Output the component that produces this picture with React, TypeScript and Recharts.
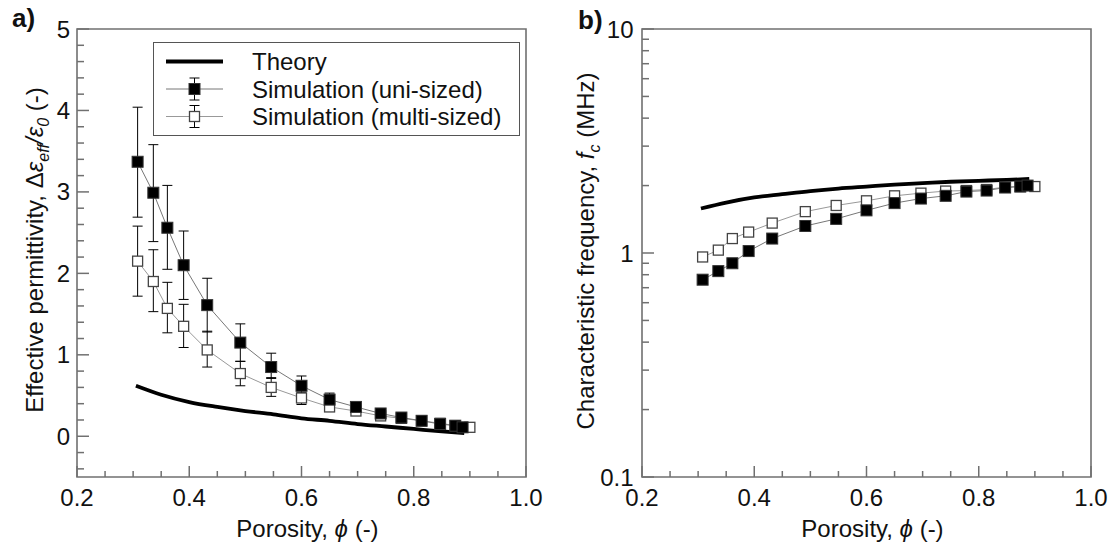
import React from 'react';
import { ComposedChart, Line, XAxis, YAxis, ErrorBar, ReferenceArea, Legend } from 'recharts';

// ---------- data ----------
const NAME_THEORY = 'Theory';
const NAME_UNI = 'Simulation (uni-sized)';
const NAME_MULTI = 'Simulation (multi-sized)';

const PHI_UNI = [0.308, 0.336, 0.361, 0.39, 0.432, 0.491, 0.546, 0.6, 0.65, 0.697, 0.741, 0.778, 0.814, 0.847, 0.874, 0.887];
const PHI_MULTI = [0.308, 0.336, 0.361, 0.39, 0.432, 0.491, 0.546, 0.6, 0.65, 0.697, 0.741, 0.778, 0.814, 0.847, 0.874, 0.9];
const PHI_THEORY = [0.305, 0.35, 0.4, 0.45, 0.5, 0.55, 0.6, 0.65, 0.7, 0.75, 0.8, 0.85, 0.89];

const PERM_UNI = [3.37, 2.99, 2.56, 2.1, 1.61, 1.15, 0.85, 0.62, 0.45, 0.36, 0.28, 0.23, 0.19, 0.15, 0.13, 0.11];
const PERM_UNI_HI = [4.04, 3.58, 3.08, 2.52, 1.94, 1.38, 1.02, 0.74, 0.53, 0.41, 0.32, 0.26, 0.21, 0.17, 0.14, 0.12];
const PERM_UNI_LO = [2.69, 2.39, 2.05, 1.68, 1.28, 0.92, 0.71, 0.51, 0.39, 0.31, 0.24, 0.2, 0.17, 0.13, 0.11, 0.1];

const PERM_MULTI = [2.15, 1.9, 1.57, 1.35, 1.06, 0.77, 0.6, 0.47, 0.36, 0.31, 0.25, 0.22, 0.19, 0.16, 0.13, 0.11];
const PERM_MULTI_HI = [2.58, 2.29, 1.89, 1.62, 1.29, 0.92, 0.72, 0.54, 0.4, 0.34, 0.27, 0.23, 0.2, 0.17, 0.14, 0.12];
const PERM_MULTI_LO = [1.72, 1.53, 1.27, 1.09, 0.85, 0.62, 0.49, 0.39, 0.32, 0.28, 0.23, 0.21, 0.18, 0.15, 0.12, 0.1];

const PERM_THEORY = [0.62, 0.51, 0.42, 0.36, 0.31, 0.27, 0.22, 0.19, 0.15, 0.12, 0.09, 0.06, 0.04];

const FREQ_UNI = [0.76, 0.83, 0.9, 1.02, 1.16, 1.32, 1.42, 1.55, 1.67, 1.75, 1.8, 1.88, 1.9, 1.96, 1.98, 2.0];
const FREQ_MULTI = [0.96, 1.03, 1.16, 1.24, 1.36, 1.53, 1.63, 1.71, 1.8, 1.85, 1.89, 1.9, 1.92, 1.97, 1.98, 1.98];
const FREQ_THEORY = [1.58, 1.68, 1.77, 1.83, 1.89, 1.94, 1.98, 2.02, 2.05, 2.08, 2.1, 2.12, 2.14];

const X_TICKS = [0.2, 0.25, 0.3, 0.35, 0.4, 0.45, 0.5, 0.55, 0.6, 0.65, 0.7, 0.75, 0.8, 0.85, 0.9, 0.95, 1.0];
const X_LABELS = [0.2, 0.4, 0.6, 0.8, 1.0];
const PERM_TICKS = [-0.4, -0.2, 0, 0.2, 0.4, 0.6, 0.8, 1, 1.2, 1.4, 1.6, 1.8, 2, 2.2, 2.4, 2.6, 2.8, 3, 3.2, 3.4, 3.6, 3.8, 4, 4.2, 4.4, 4.6, 4.8, 5];
const PERM_LABELS = [0, 1, 2, 3, 4, 5];
const FREQ_TICKS = [0.1, 0.2, 0.3, 0.4, 0.5, 0.6, 0.7, 0.8, 0.9, 1, 2, 3, 4, 5, 6, 7, 8, 9, 10];
const FREQ_LABELS = [0.1, 1, 10];

// ---------- tables built from the arrays ----------
const permUniData = PHI_UNI.map((x, i) => ({ x, y: PERM_UNI[i], err: [PERM_UNI[i] - PERM_UNI_LO[i], PERM_UNI_HI[i] - PERM_UNI[i]] }));
const permMultiData = PHI_MULTI.map((x, i) => ({ x, y: PERM_MULTI[i], err: [PERM_MULTI[i] - PERM_MULTI_LO[i], PERM_MULTI_HI[i] - PERM_MULTI[i]] }));
const permTheoryData = PHI_THEORY.map((x, i) => ({ x, y: PERM_THEORY[i] }));
const freqUniData = PHI_UNI.map((x, i) => ({ x, y: FREQ_UNI[i] }));
const freqMultiData = PHI_MULTI.map((x, i) => ({ x, y: FREQ_MULTI[i] }));
const freqTheoryData = PHI_THEORY.map((x, i) => ({ x, y: FREQ_THEORY[i] }));

// ---------- styles ----------
const FONT = '"Liberation Sans", Arial, sans-serif';
const AXIS = '#707070';
const TEXT = '#111';
const FS = 24;
const SUB = 16;

const isIn = (arr: number[], v: number) => arr.some((a) => Math.abs(a - v) < 1e-9);

const XTick = (props: any) => {
  const { x, y, payload } = props;
  const v = payload.value;
  const major = isIn(X_LABELS, v);
  return (
    <g>
      <line x1={x} x2={x} y1={y} y2={y - (major ? 11 : 6)} stroke={AXIS} strokeWidth={1.5} />
      {major && (
        <text x={x} y={y + 20} dy="0.355em" textAnchor="middle" fontFamily={FONT} fontSize={FS} fill={TEXT}>
          {v.toFixed(1)}
        </text>
      )}
    </g>
  );
};

const makeYTick = (labels: number[], gap: number) => (props: any) => {
  const { x, y, payload } = props;
  const v = payload.value;
  const major = isIn(labels, v);
  return (
    <g>
      <line x1={x} x2={x + (major ? 12 : 7)} y1={y} y2={y} stroke={AXIS} strokeWidth={1.5} />
      {major && (
        <text x={x - gap} y={y} dy="0.355em" textAnchor="end" fontFamily={FONT} fontSize={FS} fill={TEXT}>
          {String(v)}
        </text>
      )}
    </g>
  );
};
const PermTick = makeYTick(PERM_LABELS, 7);
const FreqTick = makeYTick(FREQ_LABELS, 8.5);

const filledSquare = (p: any) => {
  if (p.cx == null || p.cy == null) return <g key={`fs-${p.index}`} />;
  return <rect key={`fs-${p.index}`} x={p.cx - 5.5} y={p.cy - 5.5} width={11} height={11} fill="#000" stroke="#333" strokeWidth={1} />;
};
const openSquare = (p: any) => {
  if (p.cx == null || p.cy == null) return <g key={`os-${p.index}`} />;
  return <rect key={`os-${p.index}`} x={p.cx - 5} y={p.cy - 5} width={10} height={10} fill="#fff" stroke="#444" strokeWidth={1.3} />;
};

const xTitle = (props: any) => {
  const vb = props.viewBox || { x: 77, y: 477, width: 449 };
  const cx = vb.x + vb.width / 2 + 6;
  return (
    <text x={cx} y={vb.y + 51} dy="0.355em" textAnchor="middle" fontFamily={FONT} fontSize={FS} fill={TEXT}>
      Porosity, <tspan fontStyle="italic">ϕ</tspan> (-)
    </text>
  );
};

const permTitle = (props: any) => {
  const vb = props.viewBox || { x: 27, y: 29, width: 50, height: 448 };
  const ax = vb.x + vb.width;
  const cx = ax - 43;
  const cy = vb.y + vb.height / 2 - 3;
  return (
    <g>
      <text x={ax - 65} y={27} fontFamily={FONT} fontSize={26} fontWeight="bold" fill={TEXT}>a)</text>
      <text transform={`rotate(-90, ${cx}, ${cy})`} x={cx} y={cy} dy="0.355em" textAnchor="middle" fontFamily={FONT} fontSize={FS} fill={TEXT}>
        Effective permittivity, Δ<tspan fontStyle="italic">ε</tspan>
        <tspan fontStyle="italic" fontSize={SUB} dy={6}>eff</tspan>
        <tspan fontStyle="italic" dy={-6}>/ε</tspan>
        <tspan fontStyle="italic" fontSize={SUB} dy={6}>0</tspan>
        <tspan dy={-6}> (-)</tspan>
      </text>
    </g>
  );
};

const freqTitle = (props: any) => {
  const vb = props.viewBox || { x: 36, y: 29, width: 50, height: 448 };
  const ax = vb.x + vb.width;
  const cx = ax - 57;
  const cy = vb.y + vb.height / 2 - 2;
  return (
    <g>
      <text x={ax - 64} y={29} fontFamily={FONT} fontSize={26} fontWeight="bold" fill={TEXT}>b)</text>
      <text transform={`rotate(-90, ${cx}, ${cy})`} x={cx} y={cy} dy="0.355em" textAnchor="middle" fontFamily={FONT} fontSize={FS} fill={TEXT}>
        Characteristic frequency, <tspan fontStyle="italic">f</tspan>
        <tspan fontStyle="italic" fontSize={SUB} dy={6}>c</tspan>
        <tspan dy={-6}> (MHz)</tspan>
      </text>
    </g>
  );
};

const LEGEND_ORDER = [NAME_THEORY, NAME_UNI, NAME_MULTI];
const renderLegend = (props: any) => {
  const items = [...(props.payload || [])].sort(
    (a: any, b: any) => LEGEND_ORDER.indexOf(a.value) - LEGEND_ORDER.indexOf(b.value)
  );
  return (
    <div style={{ width: 367, height: 94, border: '1.5px solid #555', boxSizing: 'border-box', background: '#fff', position: 'relative' }}>
      <svg width={364} height={91} style={{ position: 'absolute', left: 0, top: 0 }}>
        {items.map((it: any, i: number) => {
          const cy = 18.5 + i * 27.5;
          const mx = 40.5;
          const name = it.value;
          return (
            <g key={name}>
              {name === NAME_THEORY ? (
                <line x1={12} x2={69} y1={cy} y2={cy} stroke="#000" strokeWidth={3.8} />
              ) : (
                <g>
                  <line x1={12} x2={69} y1={cy} y2={cy} stroke={name === NAME_UNI ? '#777' : '#999'} strokeWidth={1} />
                  <line x1={mx} x2={mx} y1={cy - 11} y2={cy + 11} stroke="#000" strokeWidth={1} />
                  <line x1={mx - 5} x2={mx + 5} y1={cy - 11} y2={cy - 11} stroke="#000" strokeWidth={1} />
                  <line x1={mx - 5} x2={mx + 5} y1={cy + 11} y2={cy + 11} stroke="#000" strokeWidth={1} />
                  {name === NAME_UNI ? (
                    <rect x={mx - 5.5} y={cy - 5.5} width={11} height={11} fill="#000" stroke="#333" />
                  ) : (
                    <rect x={mx - 5} y={cy - 5} width={10} height={10} fill="#fff" stroke="#444" strokeWidth={1.3} />
                  )}
                </g>
              )}
              <text x={98} y={cy} dy="0.355em" fontFamily={FONT} fontSize={FS} fill={TEXT}>{name}</text>
            </g>
          );
        })}
      </svg>
    </div>
  );
};

export default function App() {
  return (
    <div style={{ position: 'absolute', left: 0, top: 0, width: 1112, height: 550, background: '#fff' }}>
      <div style={{ position: 'absolute', left: 0, top: 0 }}>
        <ComposedChart width={556} height={550} margin={{ top: 29, right: 30, bottom: 13, left: 27 }}>
          <XAxis
            dataKey="x"
            type="number"
            domain={[0.2, 1.0]}
            allowDataOverflow
            ticks={X_TICKS}
            interval={0}
            tick={XTick}
            tickLine={false}
            tickSize={0}
            tickMargin={0}
            axisLine={false}
            height={60}
            label={{ content: xTitle }}
          />
          <YAxis
            dataKey="y"
            type="number"
            domain={[-0.5, 5]}
            allowDataOverflow
            ticks={PERM_TICKS}
            interval={0}
            tick={PermTick}
            tickLine={false}
            tickSize={0}
            tickMargin={0}
            axisLine={false}
            width={50}
            label={{ content: permTitle }}
          />
          <ReferenceArea x1={0.2} x2={1.0} y1={-0.5} y2={5} fill="none" fillOpacity={0} stroke={AXIS} strokeWidth={1.6} />
          <Line data={permTheoryData} dataKey="y" name={NAME_THEORY} type="monotone" stroke="#000" strokeWidth={3.8} dot={false} isAnimationActive={false} legendType="line" />
          <Line data={permMultiData} dataKey="y" name={NAME_MULTI} type="linear" stroke="#999" strokeWidth={1} dot={openSquare} isAnimationActive={false}>
            <ErrorBar dataKey="err" width={5} stroke="#000" strokeWidth={1} direction="y" isAnimationActive={false} />
          </Line>
          <Line data={permUniData} dataKey="y" name={NAME_UNI} type="linear" stroke="#777" strokeWidth={1} dot={filledSquare} isAnimationActive={false}>
            <ErrorBar dataKey="err" width={5} stroke="#000" strokeWidth={1} direction="y" isAnimationActive={false} />
          </Line>
          <Legend
            layout="vertical"
            align="center"
            verticalAlign="middle"
            wrapperStyle={{ left: 153, top: 42, width: 367, height: 94, margin: 0 }}
            content={renderLegend}
          />
        </ComposedChart>
      </div>
      <div style={{ position: 'absolute', left: 556, top: 0 }}>
        <ComposedChart width={556} height={550} margin={{ top: 29, right: 21, bottom: 13, left: 36 }}>
          <XAxis
            dataKey="x"
            type="number"
            domain={[0.2, 1.0]}
            allowDataOverflow
            ticks={X_TICKS}
            interval={0}
            tick={XTick}
            tickLine={false}
            tickSize={0}
            tickMargin={0}
            axisLine={false}
            height={60}
            label={{ content: xTitle }}
          />
          <YAxis
            dataKey="y"
            type="number"
            scale="log"
            domain={[0.1, 10]}
            allowDataOverflow
            ticks={FREQ_TICKS}
            interval={0}
            tick={FreqTick}
            tickLine={false}
            tickSize={0}
            tickMargin={0}
            axisLine={false}
            width={50}
            label={{ content: freqTitle }}
          />
          <ReferenceArea x1={0.2} x2={1.0} y1={0.1} y2={10} fill="none" fillOpacity={0} stroke={AXIS} strokeWidth={1.6} />
          <Line data={freqTheoryData} dataKey="y" name={NAME_THEORY} type="monotone" stroke="#000" strokeWidth={3.8} dot={false} isAnimationActive={false} />
          <Line data={freqMultiData} dataKey="y" name={NAME_MULTI} type="linear" stroke="#999" strokeWidth={1} dot={openSquare} isAnimationActive={false} />
          <Line data={freqUniData} dataKey="y" name={NAME_UNI} type="linear" stroke="#777" strokeWidth={1} dot={filledSquare} isAnimationActive={false} />
        </ComposedChart>
      </div>
    </div>
  );
}
